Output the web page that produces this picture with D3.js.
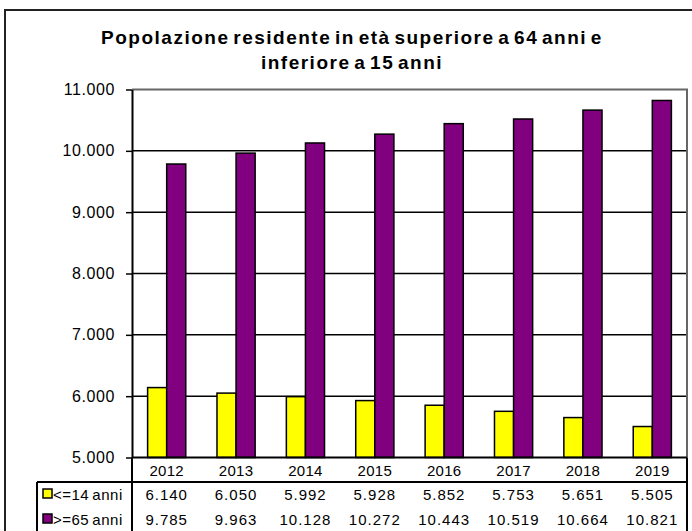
<!DOCTYPE html>
<html lang="it">
<head>
<meta charset="UTF-8">
<title>Popolazione residente</title>
<style>
    body { margin: 0; background: #fff; }
    svg { display: block; font-family: "Liberation Sans", Arial, sans-serif; }
    .axis path { stroke: #000; stroke-width: 2px; }
    .axis line { stroke: #000; stroke-width: 1.5px; }
    .axis text { font-size: 16px; fill: #000; letter-spacing: 0.6px; }
</style>
</head>
<body>
<svg width="692" height="531"></svg>
<script src="https://d3js.org/d3.v7.min.js"></script>
<script>
    // data
    var years = ["2012", "2013", "2014", "2015", "2016", "2017", "2018", "2019"];
    var under15 = [6140, 6050, 5992, 5928, 5852, 5753, 5651, 5505];
    var over64 = [9785, 9963, 10128, 10272, 10443, 10519, 10664, 10821];
    var seriesNames = ["<=14 anni", ">=65 anni"];
    var seriesColors = ["#ffff00", "#800080"];
    var yTicks = [5000, 6000, 7000, 8000, 9000, 10000, 11000];
    var titleLines = ["Popolazione residente in età superiore a 64 anni e", "inferiore a 15 anni"];

    var series = [under15, over64];

    var it = d3.formatLocale({decimal: ",", thousands: ".", grouping: [3], currency: ["", "€"]});
    var fmt = it.format(",d");

    var svg = d3.select("svg");
    var plot = {left: 132, right: 687, top: 89.5, bottom: 457.5};
    var tableLeft = 37, rowYear = 476, rowLine = 482, rowBase = [500, 525];

    // outer chart frame
    svg.append("rect")
        .attr("x", 5).attr("y", 10)
        .attr("width", 720).attr("height", 540)
        .attr("fill", "#fff")
        .attr("stroke", "#222").attr("stroke-width", 2);

    // title
    svg.append("g").selectAll("text")
        .data(titleLines)
        .enter().append("text")
        .attr("x", 352)
        .attr("y", function (d, i) { return 44 + i * 25; })
        .attr("text-anchor", "middle")
        .style("font-size", "19px")
        .style("font-weight", "bold")
        .style("letter-spacing", "1.5px")
        .style("word-spacing", "-3px")
        .text(function (d) { return d; });

    var x = d3.scaleBand()
        .domain(years)
        .range([plot.left, plot.right])
        .paddingInner(0.45)
        .paddingOuter(0.225);

    var xs = d3.scaleBand()
        .domain([0, 1])
        .range([0, x.bandwidth()]);

    var y = d3.scaleLinear()
        .domain([5000, 11000])
        .range([plot.bottom, plot.top]);

    // gridlines
    svg.append("g").selectAll("line")
        .data(yTicks.slice(1, -1))
        .enter().append("line")
        .attr("x1", plot.left).attr("x2", plot.right)
        .attr("y1", function (d) { return y(d); })
        .attr("y2", function (d) { return y(d); })
        .attr("stroke", "#000").attr("stroke-width", 1.5);

    // top and right border of plot area
    svg.append("path")
        .attr("d", "M" + plot.left + "," + y(11000) + "H" + plot.right + "V" + plot.bottom)
        .attr("fill", "none")
        .attr("stroke", "#666").attr("stroke-width", 2);

    // bars
    svg.append("g").selectAll("g")
        .data(series)
        .enter().append("g")
        .attr("fill", function (d, i) { return seriesColors[i]; })
        .each(function (vals, si) {
            d3.select(this).selectAll("rect")
                .data(vals)
                .enter().append("rect")
                .attr("x", function (d, i) { return x(years[i]) + xs(si); })
                .attr("y", function (d) { return y(d); })
                .attr("width", xs.bandwidth())
                .attr("height", function (d) { return y(5000) - y(d); })
                .attr("stroke", "#000")
                .attr("stroke-width", 1.5);
        });

    // y axis
    svg.append("g")
        .attr("class", "axis")
        .attr("transform", "translate(" + plot.left + ",0)")
        .call(d3.axisLeft(y).tickValues(yTicks).tickFormat(fmt).tickSize(6).tickPadding(11).tickSizeOuter(0));

    // bottom axis line
    svg.append("line")
        .attr("x1", plot.left).attr("x2", plot.right)
        .attr("y1", plot.bottom).attr("y2", plot.bottom)
        .attr("stroke", "#000").attr("stroke-width", 2);

    // data table lines
    var tbl = svg.append("g").attr("stroke", "#000").attr("stroke-width", 2);
    tbl.append("line").attr("x1", plot.left).attr("x2", plot.left).attr("y1", plot.bottom).attr("y2", 531);
    tbl.append("line").attr("x1", plot.right).attr("x2", plot.right).attr("y1", plot.bottom).attr("y2", 531);
    tbl.append("line").attr("x1", tableLeft).attr("x2", plot.right).attr("y1", rowLine).attr("y2", rowLine);
    tbl.append("line").attr("x1", tableLeft).attr("x2", tableLeft).attr("y1", rowLine).attr("y2", 531);

    // year labels
    svg.append("g").selectAll("text")
        .data(years)
        .enter().append("text")
        .attr("x", function (d) { return x(d) + x.bandwidth() / 2; })
        .attr("y", rowYear)
        .attr("text-anchor", "middle")
        .style("font-size", "15px")
        .style("letter-spacing", "0.3px")
        .text(function (d) { return d; });

    // values rows
    series.forEach(function (vals, si) {
        svg.append("g").selectAll("text")
            .data(vals)
            .enter().append("text")
            .attr("x", function (d, i) { return x(years[i]) + x.bandwidth() / 2; })
            .attr("y", rowBase[si])
            .attr("text-anchor", "middle")
            .style("font-size", "15px")
            .style("letter-spacing", "1px")
            .text(function (d) { return fmt(d); });

        // legend key
        svg.append("rect")
            .attr("x", 43).attr("y", rowBase[si] - 11)
            .attr("width", 9).attr("height", 9)
            .attr("fill", seriesColors[si])
            .attr("stroke", "#000").attr("stroke-width", 1.5);
        svg.append("text")
            .attr("x", 53).attr("y", rowBase[si])
            .style("font-size", "15px")
            .style("letter-spacing", "0.5px")
            .style("word-spacing", "-1.5px")
            .text(seriesNames[si]);
    });
</script>
</body>
</html>
